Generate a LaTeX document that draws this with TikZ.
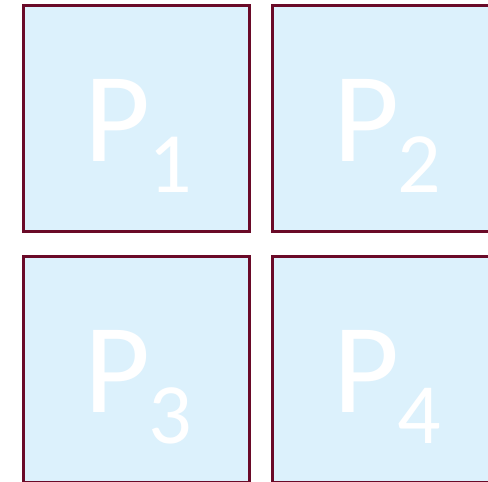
\documentclass[tikz,border=0pt]{standalone}
\usepackage{fontspec}
\setmainfont{Carlito}
\definecolor{fillb}{HTML}{DCF1FC}
\definecolor{edgec}{HTML}{6A0A28}
\begin{document}
\begin{tikzpicture}[x=1pt,y=-1pt]
\useasboundingbox (0,0) rectangle (488,482);
\clip (0,0) rectangle (488,482);
\tikzset{
  pbox/.style={draw=edgec,fill=fillb,line width=3pt,minimum width=226pt,minimum height=226pt,inner sep=0pt,outer sep=0pt},
  pletter/.style={text=white,font=\fontsize{128}{128}\selectfont,inner sep=0pt,anchor=base west},
  pdigit/.style={text=white,font=\fontsize{86}{86}\selectfont,inner sep=0pt,anchor=base west}
}
\node[pbox] (b1) at (136.5,118.5) {};
\node[pbox] (b2) at (385.5,118.5) {};
\node[pbox] (b3) at (136.5,369.5) {};
\node[pbox] (b4) at (385.5,369.5) {};
\node[pletter] (l1) at (84,161) {P};
\node[pdigit] (d1) at (148,192) {1};
\node[pletter] (l2) at (333,161) {P};
\node[pdigit] (d2) at (397,192) {2};
\node[pletter] (l3) at (84,412) {P};
\node[pdigit] (d3) at (148,443) {3};
\node[pletter] (l4) at (333,412) {P};
\node[pdigit] (d4) at (397,443) {4};
\end{tikzpicture}
\end{document}
